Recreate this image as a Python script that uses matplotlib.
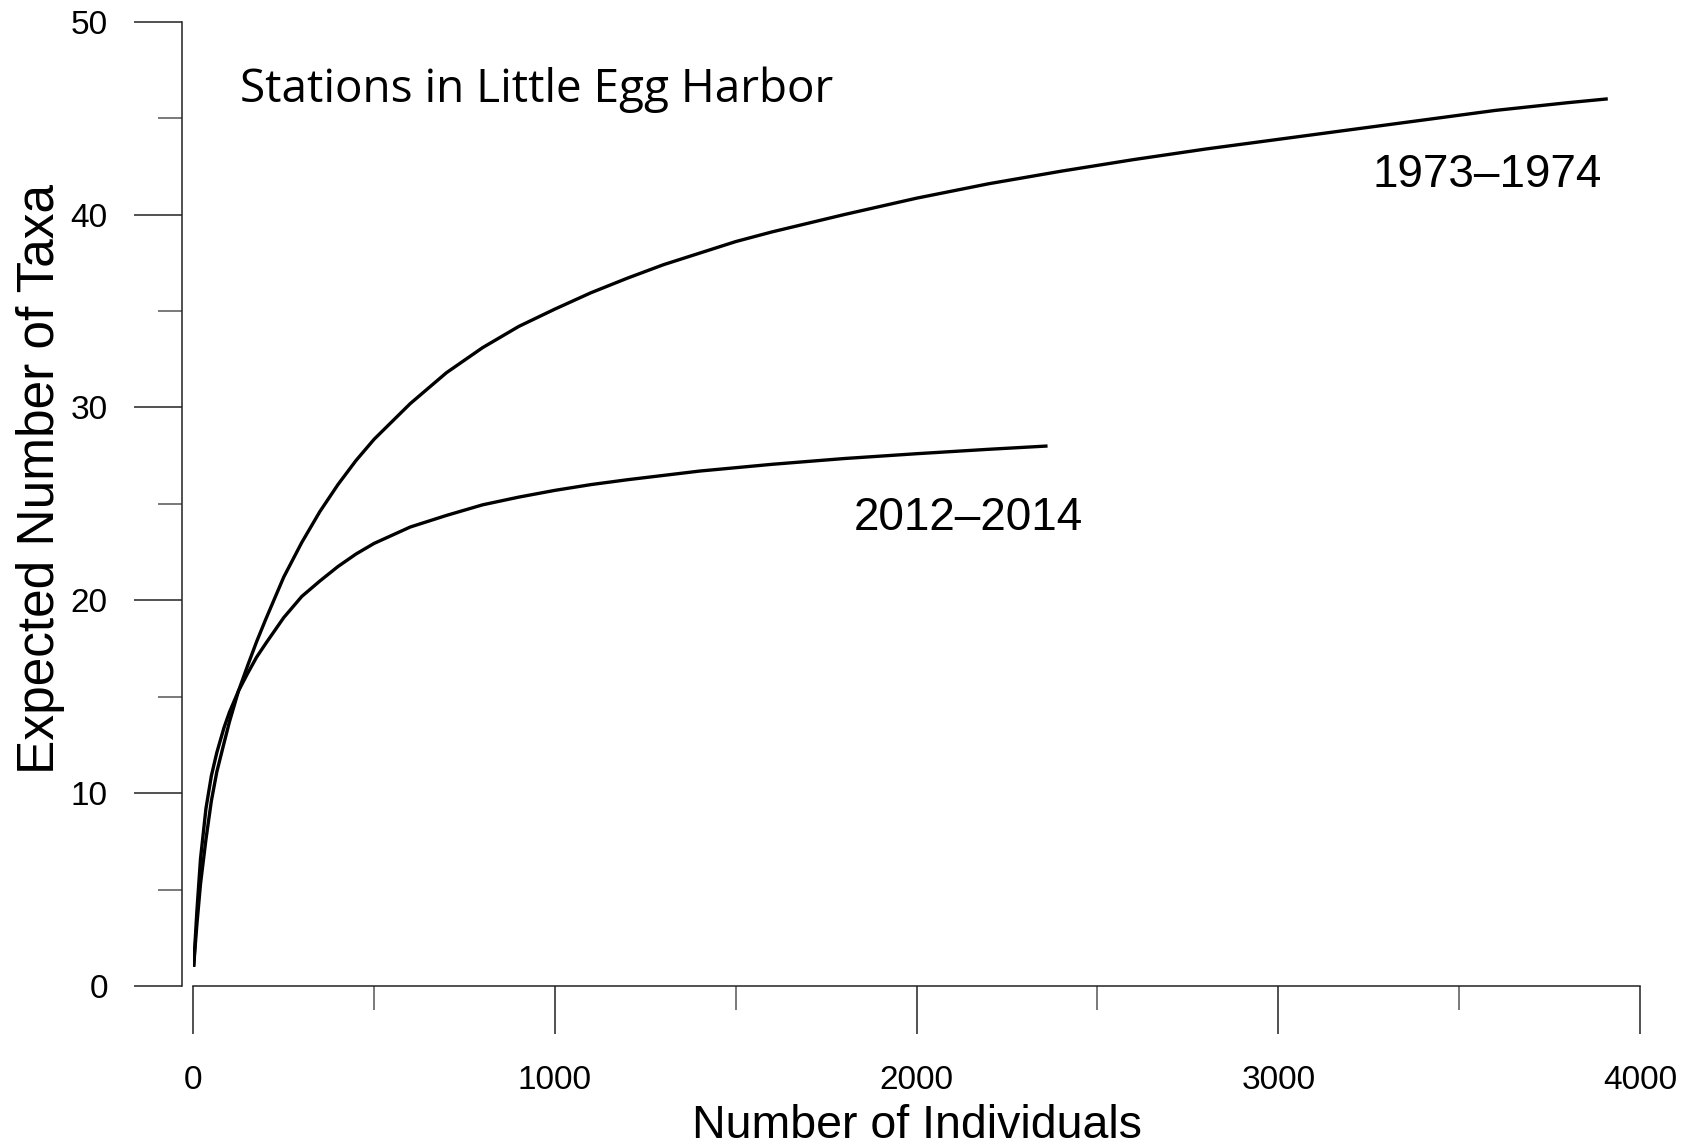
import numpy as np
import matplotlib
matplotlib.use("Agg")
import matplotlib.pyplot as plt
from matplotlib.ticker import MultipleLocator

plt.rcParams['font.family'] = ['Liberation Sans', 'DejaVu Sans']

# Rarefaction curves: expected taxa vs. number of individuals
n_1973 = [1, 5, 10, 20, 35, 50, 65, 85, 100, 125, 150, 175, 200, 250, 300, 350,
          400, 450, 500, 600, 700, 800, 900, 1000, 1100, 1200, 1300, 1400, 1500,
          1600, 1800, 2000, 2200, 2400, 2600, 2800, 3000, 3200, 3400, 3600, 3800,
          3911]
taxa_1973 = [1.0, 2.0, 3.2, 5.3, 7.6, 9.6, 11.1, 12.6, 13.7, 15.3, 16.6, 17.85,
             19.0, 21.2, 23.0, 24.6, 26.0, 27.25, 28.35, 30.2, 31.8, 33.1, 34.2,
             35.1, 35.95, 36.7, 37.4, 38.0, 38.6, 39.1, 40.0, 40.85, 41.6, 42.25,
             42.85, 43.4, 43.9, 44.4, 44.9, 45.4, 45.8, 46.0]

n_2012 = [1, 5, 10, 20, 35, 50, 65, 85, 100, 125, 150, 175, 200, 250, 300, 350,
          400, 450, 500, 600, 700, 800, 900, 1000, 1100, 1200, 1400, 1600, 1800,
          2000, 2200, 2362]
taxa_2012 = [1.0, 2.3, 3.9, 6.6, 9.2, 10.9, 12.1, 13.4, 14.2, 15.3, 16.2, 17.05,
             17.75, 19.1, 20.2, 21.0, 21.75, 22.4, 22.95, 23.8, 24.4, 24.95, 25.35,
             25.7, 26.0, 26.25, 26.7, 27.05, 27.35, 27.6, 27.83, 28.0]

labels = ["1973\u20131974", "2012\u20132014"]
title = "Stations in Little Egg Harbor"

fig = plt.figure(figsize=(16.94, 11.48), dpi=100)
ax = fig.add_axes([0.1141, 0.1411, 0.8540, 0.8400])

ax.plot(n_1973, taxa_1973, color='black', lw=2.4, solid_capstyle='butt')
ax.plot(n_2012, taxa_2012, color='black', lw=2.4, solid_capstyle='butt')

ax.set_xlim(0, 4000)
ax.set_ylim(0, 50)

# spines: only left and bottom, left one pushed out a bit
for s in ['top', 'right']:
    ax.spines[s].set_visible(False)
ax.spines['left'].set_position(('outward', 8.4))
ax.spines['left'].set_bounds(0, 50)
ax.spines['bottom'].set_bounds(0, 4000)
for s in ['left', 'bottom']:
    ax.spines[s].set_linewidth(1.1)
    ax.spines[s].set_color('#222222')

ax.xaxis.set_major_locator(MultipleLocator(1000))
ax.xaxis.set_minor_locator(MultipleLocator(500))
ax.yaxis.set_major_locator(MultipleLocator(10))
ax.yaxis.set_minor_locator(MultipleLocator(5))

ax.tick_params(axis='both', which='major', direction='out', length=34.6,
               width=1.1, color='#222222', labelsize=24)
ax.tick_params(axis='both', which='minor', direction='out', length=17.3,
               width=1.1, color='#555555')
ax.tick_params(axis='x', which='major', pad=22)
ax.tick_params(axis='y', which='major', pad=18.5)

ax.set_xlabel("Number of Individuals", fontsize=33.5, labelpad=6)
ax.set_ylabel("Expected Number of Taxa", fontsize=37)
ax.yaxis.set_label_coords(-0.0888, 0.526)

# curve labels and panel title
ax.text(3577, 41.42, labels[0], fontsize=33, ha='center', va='baseline')
ax.text(2144, 23.64, labels[1], fontsize=33, ha='center', va='baseline')
ax.text(129, 45.84, title, fontsize=33, ha='left', va='baseline',
        family=['Open Sans', 'DejaVu Sans'])

fig.savefig("out.png", dpi=100)
